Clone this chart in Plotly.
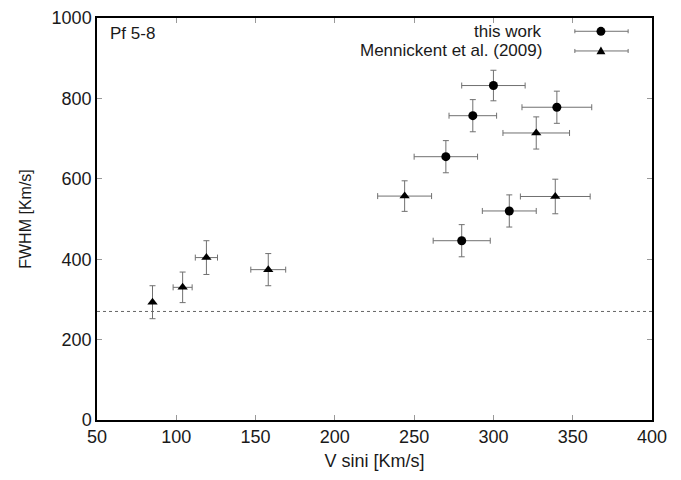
import plotly.graph_objects as go

# this work
tw_x = [300, 287, 340, 270, 310, 280]
tw_y = [832, 757, 778, 655, 520, 446]
tw_xerr = [20, 15, 22, 20, 17, 18]
tw_yerr = [38, 40, 40, 40, 40, 40]

# Mennickent et al. (2009)
mn_x = [85, 104, 119, 158, 244, 327, 339]
mn_y = [293, 330, 404, 374, 557, 714, 556]
mn_xerr = [0, 6, 7, 11, 17, 21, 22]
mn_yerr = [41, 38, 42, 40, 38, 40, 43]

threshold = 270
x_ticks = [50, 100, 150, 200, 250, 300, 350, 400]
y_ticks = [0, 200, 400, 600, 800, 1000]

FONT = "Liberation Sans, Arial, sans-serif"
ERRC = "#707070"
TXT = "#1a1a1a"

fig = go.Figure()
fig.add_trace(go.Scatter(
    x=mn_x, y=mn_y, mode="markers", name="Mennickent et al. (2009)",
    marker=dict(symbol="triangle-up", size=9, color="black"),
    error_x=dict(type="data", array=mn_xerr, color=ERRC, thickness=1, width=3),
    error_y=dict(type="data", array=mn_yerr, color=ERRC, thickness=1, width=3),
))
fig.add_trace(go.Scatter(
    x=tw_x, y=tw_y, mode="markers", name="this work",
    marker=dict(symbol="circle", size=9, color="black"),
    error_x=dict(type="data", array=tw_xerr, color=ERRC, thickness=1, width=3),
    error_y=dict(type="data", array=tw_yerr, color=ERRC, thickness=1, width=3),
))

fig.add_shape(type="line", xref="x", yref="y", x0=50, x1=400, y0=threshold, y1=threshold,
              line=dict(color="#666666", width=1, dash="3px,3px"))

# legend (gnuplot style: text left, sample right)
leg = [("this work", 0.967, "circle"), ("Mennickent et al. (2009)", 0.918, "tri")]
for label, yp, kind in leg:
    fig.add_annotation(xref="paper", yref="paper", x=0.804, y=yp, text=label,
                       showarrow=False, xanchor="right", yanchor="middle", borderpad=0,
                       font=dict(family=FONT, size=17, color=TXT))
    fig.add_shape(type="line", xref="paper", yref="paper", x0=0.861, x1=0.957, y0=yp, y1=yp,
                  line=dict(color=ERRC, width=1))
    for xe in (0.861, 0.957):
        fig.add_shape(type="line", xref="paper", yref="paper", x0=xe, x1=xe, y0=yp - 0.005, y1=yp + 0.005,
                      line=dict(color=ERRC, width=1))
    if kind == "circle":
        fig.add_shape(type="circle", xref="paper", yref="paper", x0=0.908 - 0.008, x1=0.908 + 0.008,
                      y0=yp - 0.011, y1=yp + 0.011, fillcolor="black", line=dict(color="black", width=0))
    else:
        fig.add_shape(type="path", xref="paper", yref="paper",
                      path=f"M {0.908-0.008} {yp-0.008} L {0.908+0.008} {yp-0.008} L 0.908 {yp+0.011} Z",
                      fillcolor="black", line=dict(color="black", width=0))

fig.add_annotation(xref="paper", yref="paper", x=0.02, y=0.962, text="Pf 5-8", showarrow=False,
                   xanchor="left", yanchor="middle", font=dict(family=FONT, size=17, color=TXT))

axis_common = dict(showline=True, linecolor="black", linewidth=1.5, mirror="allticks",
                   ticks="inside", ticklen=5, tickcolor="#999999", showgrid=False, zeroline=False,
                   automargin=False, ticklabeloverflow="allow",
                   tickfont=dict(family=FONT, size=18, color=TXT))
fig.update_xaxes(range=[50, 400], tickvals=x_ticks, ticktext=[str(v) for v in x_ticks],
                 title=dict(text="V sini [Km/s]", font=dict(family=FONT, size=18, color=TXT), standoff=8),
                 **axis_common)
fig.update_yaxes(range=[0, 1000], tickvals=y_ticks, ticktext=[str(v) for v in y_ticks],
                 title=dict(text="FWHM [Km/s]", font=dict(family=FONT, size=16, color=TXT), standoff=16),
                 **axis_common)

fig.update_layout(width=665, height=464, showlegend=False, plot_bgcolor="white", paper_bgcolor="white",
                  margin=dict(l=89, r=21, t=10, b=52), font=dict(family=FONT))
fig.write_html("out.html")
